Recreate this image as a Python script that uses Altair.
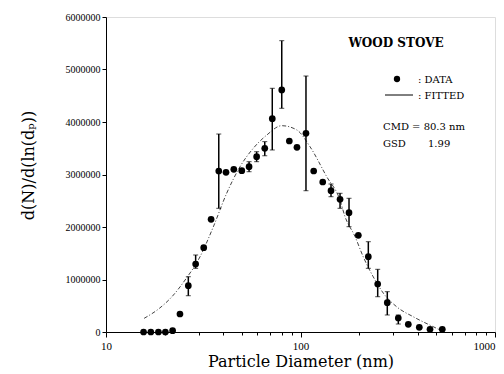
import altair as alt
import pandas as pd

# Measured data (diameter in nm, dN/dln(dp))
diam = [15.6, 17.0, 18.6, 20.2, 22.0, 24.0, 26.5, 28.9, 31.8, 34.7, 38.0, 41.4, 45.4,
        49.9, 54.4, 59.5, 65.5, 71.6, 80.1, 87.6, 95.9, 106.7, 116.9, 130.1, 143.5,
        159.7, 177.6, 198.3, 223.2, 249.4, 279.4, 318.3, 358.3, 408.1, 463.3, 535.8]
conc = [0, 0, 0, 0, 25000, 343000, 882000, 1295000, 1606000, 2147000, 3067000, 3042000,
        3099000, 3072000, 3149000, 3339000, 3499000, 4063000, 4610000, 3638000, 3518000,
        3785000, 3067000, 2857000, 2691000, 2528000, 2272000, 1842000, 1434000, 914000,
        558000, 267000, 147000, 90000, 51000, 51000]

# Error bars
eb_d = [26.5, 28.9, 38.0, 54.4, 59.5, 65.5, 71.6, 80.1, 106.7, 143.5, 159.7, 177.6,
        223.2, 249.4, 279.4, 318.3]
eb_lo = [691000, 1213000, 2356000, 3053000, 3244000, 3357000, 3467000, 4261000,
         2691000, 2577000, 2356000, 2006000, 1213000, 672000, 324000, 152000]
eb_hi = [1053000, 1467000, 3771000, 3244000, 3434000, 3626000, 4642000, 5549000,
         4876000, 2819000, 2642000, 2547000, 1720000, 1194000, 768000, 324000]

# Fitted curve
fit_d = [15.7, 18.8, 21.8, 25.5, 30.4, 35.6, 41.7, 48.9, 57.2, 67.0, 80.1, 95.6, 111.9,
         136.3, 159.7, 169.3, 190.6, 210.3, 236.7, 266.6, 312.3, 380.1, 463.3, 521.5]
fit_v = [260000, 450000, 670000, 990000, 1430000, 2000000, 2640000, 3150000, 3500000,
         3750000, 3930000, 3850000, 3530000, 2960000, 2510000, 2200000, 1820000, 1430000,
         1050000, 740000, 480000, 290000, 130000, 40000]

y_ticks = [0, 1000000, 2000000, 3000000, 4000000, 5000000, 6000000]
x_ticks = [10, 20, 30, 40, 50, 60, 70, 80, 90, 100, 200, 300, 400, 500, 600, 700, 800, 900, 1000]

FONT = "Liberation Serif"
TITLE_FONT = "DejaVu Serif"

xscale = alt.Scale(type="log", domain=[10, 1000], nice=False)
yscale = alt.Scale(domain=[0, 6000000], nice=False)

xaxis = alt.Axis(values=x_ticks, title="Particle Diameter (nm)",
                 labelExpr="(datum.value == 10 || datum.value == 100 || datum.value == 1000) ? datum.label : ''",
                 format="d", labelFont=FONT, labelFontSize=11, labelColor="black",
                 labelAlign=alt.ExprRef("datum.value == 1000 ? 'right' : 'center'"),
                 titleFont=TITLE_FONT, titleFontSize=16, titleFontWeight="normal", titleColor="black",
                 titlePadding=2, tickColor="black", domainColor="black", grid=False,
                 tickSize=alt.ExprRef("(datum.value == 10 || datum.value == 100 || datum.value == 1000) ? 5 : 3"),
                 labelFlush=False, labelPadding=3)
yaxis = alt.Axis(values=y_ticks, format="d", title="d(N)/d(ln(dₚ))",
                 labelFont=FONT, labelFontSize=10, labelColor="black",
                 titleFont=TITLE_FONT, titleFontSize=16, titleFontWeight="normal", titleColor="black",
                 titleX=-70, titleY=148, titleAngle=-90, titleAlign="center",
                 tickColor="black", domainColor="black", grid=False, tickSize=4, labelPadding=2)


def X(field):
    return alt.X(f"{field}:Q", scale=xscale, axis=xaxis, title="Particle Diameter (nm)")


def Y(field):
    return alt.Y(f"{field}:Q", scale=yscale, axis=yaxis, title="d(N)/d(ln(dₚ))")


pts = pd.DataFrame({"d": diam, "v": conc})
ebs = pd.DataFrame({"d": eb_d, "lo": eb_lo, "hi": eb_hi})
fit = pd.DataFrame({"d": fit_d, "v": fit_v})

fit_line = alt.Chart(fit).mark_line(color="#444444", strokeWidth=1, strokeDash=[4, 2, 1, 2],
                                    interpolate="monotone").encode(x=X("d"), y=Y("v"))
err = alt.Chart(ebs).mark_rule(color="black", strokeWidth=1.5).encode(
    x=X("d"), y=Y("lo"), y2="hi:Q")
cap_hi = alt.Chart(ebs).mark_tick(color="black", orient="horizontal", size=5, thickness=1).encode(
    x=X("d"), y=Y("hi"))
cap_lo = alt.Chart(ebs).mark_tick(color="black", orient="horizontal", size=5, thickness=1).encode(
    x=X("d"), y=Y("lo"))
points = alt.Chart(pts).mark_point(filled=True, color="black", size=45, opacity=1).encode(
    x=X("d"), y=Y("v"))

one = alt.Data(values=[{}])


def label(txt, x, y, size=11, weight="normal", font=TITLE_FONT):
    return alt.Chart(one).mark_text(text=txt, align="left", baseline="middle", fontSize=size,
                                    fontWeight=weight, font=font, color="black").encode(
        x=alt.value(x), y=alt.value(y))


title_txt = alt.Chart(one).mark_text(text="WOOD STOVE", align="center", baseline="middle",
                                     fontSize=12, fontWeight="bold", font=TITLE_FONT,
                                     color="black").encode(x=alt.value(290), y=alt.value(26))
leg_pt = alt.Chart(one).mark_point(filled=True, color="black", size=40, opacity=1).encode(
    x=alt.value(291), y=alt.value(62))
leg_line = alt.Chart(one).mark_rule(color="black", strokeWidth=1).encode(
    x=alt.value(279), x2=alt.value(307), y=alt.value(78))

chart = alt.layer(
    fit_line, err, cap_hi, cap_lo, points,
    title_txt, leg_pt, leg_line,
    label(": DATA", 312, 63, 10),
    label(": FITTED", 312, 79, 10),
    label("CMD = 80.3 nm", 277, 110, 10),
    label("GSD", 277, 127, 10),
    label("1.99", 322, 127, 10),
).properties(
    width=389, height=315,
    padding={"left": 106, "top": 17, "right": 9, "bottom": 42},
    autosize="none",
).configure_view(stroke="black", strokeWidth=1.5).configure(background="white")

chart.save("out.html", embed_options={"renderer": "svg", "actions": False})
